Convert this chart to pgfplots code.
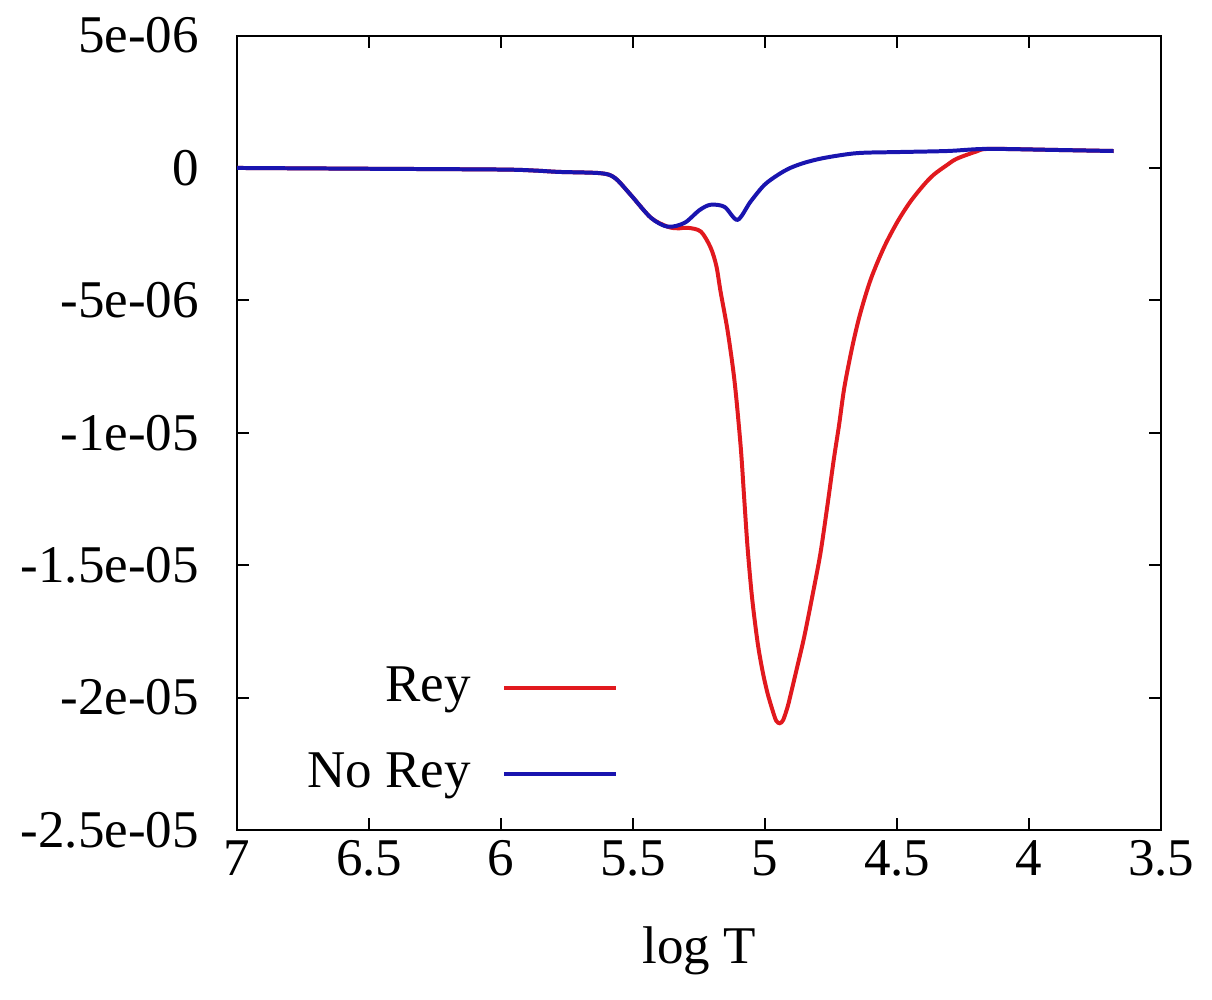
\documentclass[border=0pt]{standalone}
\usepackage{fontspec}
\setmainfont{Liberation Serif}
\usepackage{pgfplots}
\pgfplotsset{compat=1.18}
\definecolor{cred}{RGB}{225,25,30}
\definecolor{cblue}{RGB}{25,20,175}
\begin{document}
\fontsize{13.3}{15}\selectfont
\begin{tikzpicture}
\begin{axis}[
  scale only axis,
  width=231.75pt, height=199.25pt,
  x dir=reverse,
  xmin=3.5, xmax=7,
  ymin=-25, ymax=5,
  xtick={3.5,4,4.5,5,5.5,6,6.5,7},
  xticklabels={3.5,4,4.5,5,5.5,6,6.5,7},
  ytick={-25,-20,-15,-10,-5,0,5},
  yticklabels={-2.5e-05,-2e-05,-1.5e-05,-1e-05,-5e-06,0,5e-06},
  tick align=inside,
  major tick length=3pt,
  tick style={black, line width=0.5pt},
  axis line style={black, line width=0.5pt},
  yticklabel style={xshift=-5pt},
  xticklabel style={yshift=2pt},
  xlabel={log T},
  xlabel style={yshift=-3.5pt},
  legend cell align=right,
  legend plot pos=right,
  legend style={at={(0.426,0.022)}, anchor=south east, draw=none, fill=none,
    row sep=7pt, font=\fontsize{13.3}{15}\selectfont},
  legend image code/.code={\path (0pt,0pt); \draw[#1] (6pt,0pt) -- (34pt,0pt);},
]
\addplot[cred, line width=1pt, smooth] coordinates {
(7.0,0) (6.5,-0.03) (6.0,-0.06) (5.87,-0.1) (5.78,-0.15) (5.622,-0.2)
(5.569,-0.38) (5.509,-1.02) (5.433,-1.88) (5.369,-2.22) (5.33,-2.28)
(5.293,-2.26) (5.244,-2.4) (5.207,-3.0) (5.185,-3.7) (5.169,-4.67)
(5.142,-6.17) (5.116,-8.06) (5.093,-10.5) (5.08,-12.4) (5.067,-14.3)
(5.05,-16.2) (5.029,-17.9) (5.01,-19.0) (4.991,-19.84) (4.97,-20.55)
(4.958,-20.88) (4.945,-20.97) (4.932,-20.85) (4.915,-20.35) (4.905,-19.95)
(4.88,-18.9) (4.852,-17.7)
(4.82,-16.1) (4.791,-14.57) (4.765,-12.8) (4.74,-11.0) (4.72,-9.7)
(4.70,-8.28) (4.67,-6.75) (4.64,-5.5) (4.60,-4.2) (4.55,-3.0)
(4.50,-2.05) (4.452,-1.3) (4.40,-0.65) (4.361,-0.25) (4.31,0.12)
(4.274,0.35) (4.2,0.62) (4.15,0.72) (3.9,0.68) (3.68,0.64)
};
\addlegendentry{Rey}
\addplot[cblue, line width=1pt, smooth] coordinates {
(7.0,0) (6.5,-0.03) (6.0,-0.06) (5.87,-0.1) (5.78,-0.15) (5.622,-0.2)
(5.569,-0.38) (5.509,-1.02) (5.433,-1.88) (5.369,-2.22) (5.305,-2.07)
(5.25,-1.6) (5.207,-1.39) (5.154,-1.47) (5.105,-1.96) (5.056,-1.28)
(5.003,-0.64) (4.95,-0.25) (4.905,0) (4.85,0.2) (4.776,0.38)
(4.652,0.56) (4.5,0.6) (4.31,0.64) (4.16,0.72) (3.9,0.68) (3.68,0.64)
};
\addlegendentry{No Rey}
\end{axis}
\path (current axis.south west) ++(-59.5pt,-42.5pt) rectangle ([xshift=11.75pt,yshift=7.5pt]current axis.north east);
\end{tikzpicture}
\end{document}
